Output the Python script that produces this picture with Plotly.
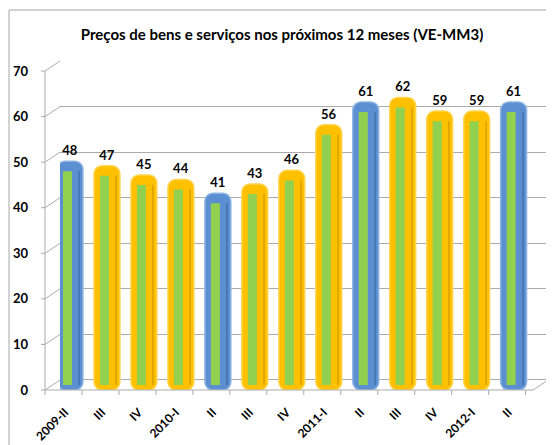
import plotly.graph_objects as go

# Data
periodos = ["2009-II", "III", "IV", "2010-I", "II", "III", "IV",
            "2011-I", "II", "III", "IV", "2012-I", "II"]
valores = [48, 47, 45, 44, 41, 43, 46, 56, 61, 62, 59, 59, 61]
y_ticks = [0, 10, 20, 30, 40, 50, 60, 70]
titulo = "Preços de bens e serviços nos próximos 12 meses (VE-MM3)"

# Layout geometry (pixels, as seen in the browser window)
W, H = 554, 445
OX, OY = 8, 8        # page body margin
L, R, T, B = 60, 548, 61, 390
depth = 2.2          # "3D" offset between back wall and front plane, in data units
ymin, ymax = -depth, 70
xmin, xmax = -0.27, 12.93
FONT = "Lato, 'Open Sans', sans-serif"


def px(xp):
    return (xp - L) / (R - L)


def py(yp):
    return (B - yp) / (B - T)


def ypix(v):
    return B - (v - ymin) / (ymax - ymin) * (B - T)


xs = list(range(len(periodos)))
is_blue = [p.split("-")[-1] == "II" for p in periodos]
outer_col = ["#5B8FD2" if b else "#FFC000" for b in is_blue]
edge_col = ["#8DB4E2" if b else "#FFD54F" for b in is_blue]
side_col = ["#4A78B5" if b else "#E0A800" for b in is_blue]

fig = go.Figure()

# outer column
fig.add_trace(go.Bar(
    x=xs, y=[v + depth for v in valores], base=-depth,
    width=0.70, offset=-0.35,
    marker=dict(color=outer_col, line=dict(color=edge_col, width=1.5), cornerradius=8),
    text=[str(v) for v in valores], textposition="outside",
    textfont=dict(family=FONT, size=13, color="black", weight="bold"),
    cliponaxis=False, hoverinfo="skip", showlegend=False,
))

# darker side strip
fig.add_trace(go.Bar(
    x=xs, y=[v - depth / 2 for v in valores], base=-depth / 2,
    width=0.035, offset=0.23,
    marker=dict(color=side_col, line=dict(width=0)),
    hoverinfo="skip", showlegend=False,
))

# inner green column
fig.add_trace(go.Bar(
    x=xs, y=[v - depth / 2 for v in valores], base=-depth / 2,
    width=0.245, offset=-0.19,
    marker=dict(color="#92D050", line=dict(width=0)),
    hoverinfo="skip", showlegend=False,
))

grid = "#ABABAB"
shapes = [
    # outer frame
    dict(type="rect", xref="paper", yref="paper",
         x0=px(OX + 1), y0=py(460), x1=px(570), y1=py(10),
         line=dict(color="#A6A6A6", width=1), layer="below"),
    # front y axis
    dict(type="line", xref="paper", yref="paper",
         x0=px(45), y0=py(ypix(ymax - depth)), x1=px(45), y1=py(B),
         line=dict(color=grid, width=1)),
    # front x axis + right diagonal
    dict(type="line", xref="paper", yref="paper",
         x0=px(45), y0=py(B), x1=px(R - 15), y1=py(B),
         line=dict(color=grid, width=1)),
    dict(type="line", xref="paper", yref="paper",
         x0=px(R - 15), y0=py(B), x1=px(R), y1=py(ypix(0)),
         line=dict(color=grid, width=1)),
]
for v in y_ticks:
    yf = ypix(v - depth)
    yb = ypix(v)
    shapes.append(dict(type="line", xref="paper", yref="paper",
                       x0=px(45), y0=py(yf), x1=px(L), y1=py(yb),
                       line=dict(color=grid, width=1)))
    shapes.append(dict(type="line", xref="paper", yref="paper",
                       x0=px(41), y0=py(yf), x1=px(45), y1=py(yf),
                       line=dict(color=grid, width=1)))
step = (R - L) / (xmax - xmin)
for k in range(len(periodos) + 1):
    xt = 45 + k * step
    shapes.append(dict(type="line", xref="paper", yref="paper",
                       x0=px(xt), y0=py(B), x1=px(xt), y1=py(B + 5),
                       line=dict(color=grid, width=1)))

fig.update_layout(
    width=W, height=H,
    margin=dict(l=L - OX, r=W - (R - OX), t=T - OY, b=H - (B - OY)),
    paper_bgcolor="white", plot_bgcolor="white",
    barmode="overlay",
    title=dict(text="<b>" + titulo + "</b>", x=(282 - OX) / W, xref="container",
               xanchor="center", y=1 - (35 - OY) / H, yanchor="middle",
               font=dict(family=FONT, size=15, color="black")),
    shapes=shapes,
    xaxis=dict(range=[xmin, xmax], tickvals=xs, ticktext=periodos, automargin=False,
               showgrid=False, zeroline=False, showline=False, ticks="", tickangle=-45,
               tickfont=dict(family=FONT, size=12, color="black", weight="bold"),
               ticklabelstandoff=12, ticklabelshift=-5),
    yaxis=dict(range=[ymin, ymax], tickvals=y_ticks, showgrid=True, gridcolor=grid,
               gridwidth=1, zeroline=False, showline=False, ticks="", automargin=False,
               tickfont=dict(family=FONT, size=13, color="black", weight="bold"),
               ticklabelshift=10, ticklabelstandoff=31),
    font=dict(family=FONT),
)

fig.write_html("out.html")
